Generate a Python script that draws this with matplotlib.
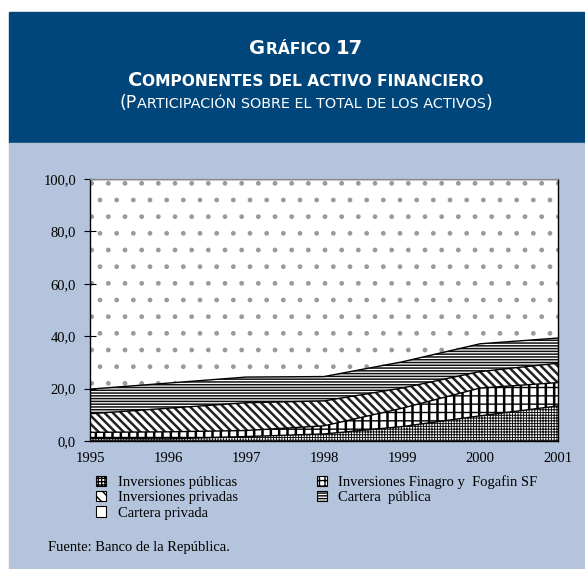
import matplotlib
matplotlib.use('Agg')
import matplotlib.pyplot as plt
import numpy as np
from matplotlib.patches import Rectangle, Patch
from matplotlib.offsetbox import TextArea, HPacker, AnnotationBbox

# datos (participacion %)
years = [1995, 1996, 1997, 1998, 1999, 2000, 2001]
inv_publicas = [1.0, 0.8, 1.7, 2.7, 5.5, 9.6, 13.4]
inv_finagro = [2.3, 2.7, 2.3, 3.1, 7.0, 10.6, 8.9]
inv_privadas = [7.1, 9.0, 10.6, 9.5, 7.7, 6.3, 7.4]
cartera_publica = [9.4, 9.6, 9.8, 9.3, 10.0, 10.6, 9.6]
cartera_privada = [80.2, 77.9, 75.6, 75.4, 69.8, 62.9, 60.7]

labels = ['Inversiones públicas', 'Inversiones Finagro y  Fogafin SF',
          'Inversiones privadas', 'Cartera  pública', 'Cartera privada']
yticks = [0, 20, 40, 60, 80, 100]

W, H = 585, 569
panel = '#b4c4dc'
header = '#00467a'
serif = 'Liberation Serif'
bslash = chr(92)

fig = plt.figure(figsize=(W / 100, H / 100), dpi=100)
fig.patch.set_facecolor('white')

# cajas de fondo
fig.patches.append(Rectangle((9 / W, 1 - 143 / H), 1 - 9 / W, 131 / H,
                             transform=fig.transFigure, color=header, zorder=-10))
fig.patches.append(Rectangle((9 / W, 0), 1 - 9 / W, 1 - 143 / H,
                             transform=fig.transFigure, color=panel, zorder=-10))


# titulo en versalitas
def small_caps(txt, ypix, big=13.5, small=10.8, weight='bold'):
    parts = []
    run, run_big = '', None
    for ch in txt:
        is_big = not ch.islower()
        if ch == ' ':
            is_big = run_big if run_big is not None else False
        if run_big is None or is_big == run_big:
            run += ch
            run_big = is_big
        else:
            parts.append((run, run_big))
            run, run_big = ch, is_big
    parts.append((run, run_big))
    boxes = [TextArea(s.upper(), textprops=dict(color='white', family='DejaVu Sans',
                                                 fontweight=weight,
                                                 fontsize=big if b else small))
             for s, b in parts]
    pack = HPacker(children=boxes, align='baseline', pad=0, sep=0)
    ab = AnnotationBbox(pack, (306, H - ypix), xycoords='figure pixels',
                        frameon=False, pad=0, box_alignment=(0.5, 0.5))
    fig.add_artist(ab)


small_caps('Gráfico 17', 48, big=14, small=11.2)
small_caps('Componentes del activo financiero', 80, big=14, small=11.2)
small_caps('(Participación sobre el total de los activos)', 103, big=12.5, small=10.4,
           weight='normal')

ax = fig.add_axes([90 / W, 1 - 441 / H, 468 / W, 262 / H])
ax.set_facecolor('white')

series = [inv_publicas, inv_finagro, inv_privadas, cartera_publica, cartera_privada]
# (tramas de relleno, grosor, color, trama de leyenda)
styles = [(['+' * 6], 0.7, '#111111', '+' * 5),
          (['|' * 2, '-' * 2], 1.8, 'black', '+' * 3),
          ([bslash * 4], 1.8, '#222222', bslash * 3),
          (['-' * 6], 1.1, '#111111', '-' * 6),
          (['.'], 1.0, '#9a9a9a', '')]

bottom = np.zeros(len(years))
handles = []
for vals, (hatches, hlw, hc, lh) in zip(series, styles):
    top = bottom + np.array(vals)
    for k, hatch in enumerate(hatches):
        with plt.rc_context({'hatch.linewidth': hlw if k == 0 else 1.0}):
            ax.fill_between(years, bottom, top, facecolor='white' if k == 0 else 'none',
                            edgecolor=hc, hatch=hatch, linewidth=0)
    with plt.rc_context({'hatch.linewidth': 0.8}):
        handles.append(Patch(facecolor='white', edgecolor='black', hatch=lh, linewidth=0.8))
    ax.plot(years, top, color='black', lw=1)
    bottom = top

ax.set_xlim(1995, 2001)
ax.set_ylim(0, 100)
ax.set_xticks(years)
ax.set_xticklabels([str(y) for y in years], family=serif, fontsize=10.5)
ax.set_yticks(yticks)
ax.set_yticklabels([f'{v:.1f}'.replace('.', ',') for v in yticks], family=serif, fontsize=10.5)
ax.tick_params(axis='x', length=0, pad=8)
ax.tick_params(axis='y', direction='inout', length=8, width=0.8, pad=6)
for s in ['left', 'bottom', 'right']:
    ax.spines[s].set_linewidth(1.0)
ax.spines['top'].set_color('#888888')

# leyenda (orden por columnas)
order = [0, 2, 4, 1, 3]
leg = fig.legend([handles[i] for i in order], [labels[i] for i in order],
                 ncol=2, loc='upper left', bbox_to_anchor=(96 / W, 1 - 475 / H),
                 frameon=False, prop=dict(family=serif, size=10.5),
                 handlelength=0.7, handleheight=0.7, handletextpad=0.8,
                 labelspacing=0.15, columnspacing=5.4, borderpad=0, borderaxespad=0)

fig.text(48 / W, 1 - 548 / H, 'Fuente: Banco de la República.', family=serif,
         fontsize=10.5, va='center', ha='left')

fig.savefig('out.png', dpi=100)
